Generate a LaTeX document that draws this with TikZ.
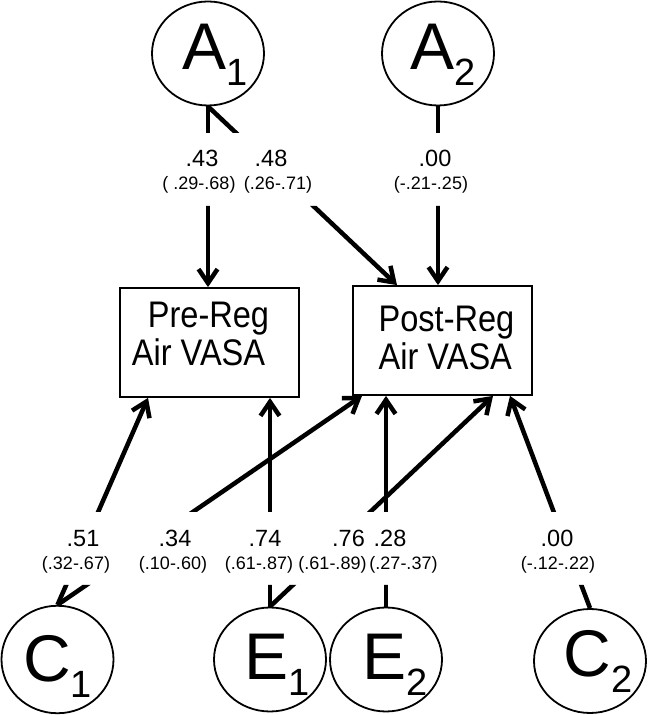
\documentclass[tikz,border=0pt]{standalone}
\usepackage{fontspec}
\setmainfont{Liberation Sans}
\usetikzlibrary{shapes.geometric,arrows.meta,calc}
\newcommand\latlab[4]{\rule{0pt}{#4}{\fontsize{66}{66}\selectfont #1}\raisebox{-16pt}{\fontsize{38}{38}\selectfont #2}\kern#3}
\newcommand\boxfont{\fontsize{37}{38}\selectfont}
\newcommand\sq[1]{\scalebox{0.88}[1]{#1}}
\begin{document}
\begin{tikzpicture}[x=1pt,y=1pt,
  latent/.style={ellipse,draw,line width=1.8pt,minimum width=112pt,minimum height=104pt,inner sep=0pt},
  obsbox/.style={rectangle,draw,line width=1.8pt,minimum width=179pt,minimum height=109pt,inner sep=0pt,align=left,font=\boxfont},
  conn/.style={line width=4.5pt,-{Straight Barb[length=14pt,width=19pt]}},
  coef/.style={anchor=base,font=\fontsize{23.5}{23.5}\selectfont,inner sep=0pt},
  ci/.style={anchor=base,font=\fontsize{18}{18}\selectfont,inner sep=0pt}]
\useasboundingbox (0,0) rectangle (648,715);
% latent variables
\node[latent] (A1) at (208,661.5) {\latlab{A}{1}{-14pt}{49pt}};
\node[latent] (A2) at (438,661.5) {\latlab{A}{2}{-10pt}{49pt}};
\node[latent] (C1) at (57.5,55.5) {\latlab{C}{1}{0pt}{60pt}};
\node[latent] (E1) at (270,55.5) {\latlab{E}{1}{-15pt}{56pt}};
\node[latent] (E2) at (386,55.5) {\latlab{E}{2}{-18pt}{56pt}};
\node[latent] (C2) at (590,54) {\latlab{C}{2}{-16pt}{0pt}};
% observed
\node[obsbox] (pre) at (209.5,372.5) {\hspace*{16pt}\sq{Pre-Reg}\hspace*{18pt}\\\sq{Air VASA}\rule[-17.5pt]{0pt}{0pt}};
\node[obsbox] (post) at (442.5,374.5) {\hspace*{8pt}\sq{Post-Reg}\\\hspace*{8pt}\sq{Air VASA}\rule[-4.5pt]{0pt}{0pt}};
% connectors, broken where the labels are
\begin{scope}
\clip (0,0) rectangle (648,130) (0,203) rectangle (648,509) (0,582) rectangle (648,715);
\draw[conn] (A1.south) -- (A1.south |- pre.north);
\draw[conn] (A1.south) -- ([xshift=-45.5pt]post.north);
\draw[conn] (A2.south) -- (A2.south |- post.north);
\draw[conn] (C1.north) -- ([xshift=-61.5pt]pre.south);
\draw[conn] (C1.north) -- ([xshift=-80.5pt]post.south);
\draw[conn] (E1.north) -- (E1.north |- pre.south);
\draw[conn] (E1.north) -- ([xshift=50.5pt]post.south);
\draw[conn] (E2.north) -- (E2.north |- post.south);
\draw[conn] (C2.north) -- ([xshift=67.5pt]post.south);
\end{scope}
% labels
\node[coef] (l1) at (202,548) {.43};
\node[ci] (m1) at (199,525) {( .29-.68)};
\node[coef] (l2) at (271,548) {.48};
\node[ci] (m2) at (278,525) {(.26-.71)};
\node[coef] (l3) at (435,548) {.00};
\node[ci] (m3) at (431,525) {(-.21-.25)};
\node[coef] (l4) at (83,168) {.51};
\node[ci] (m4) at (76,145) {(.32-.67)};
\node[coef] (l5) at (175,168) {.34};
\node[ci] (m5) at (173,145) {(.10-.60)};
\node[coef] (l6) at (265,168) {.74};
\node[ci] (m6) at (259,145) {(.61-.87)};
\node[coef] (l7) at (348.5,168) {.76};
\node[ci] (m7) at (332.5,145) {(.61-.89)};
\node[coef] (l8) at (390,168) {.28};
\node[ci] (m8) at (403.5,145) {(.27-.37)};
\node[coef] (l9) at (557,168) {.00};
\node[ci] (m9) at (558,145) {(-.12-.22)};
\end{tikzpicture}
\end{document}
